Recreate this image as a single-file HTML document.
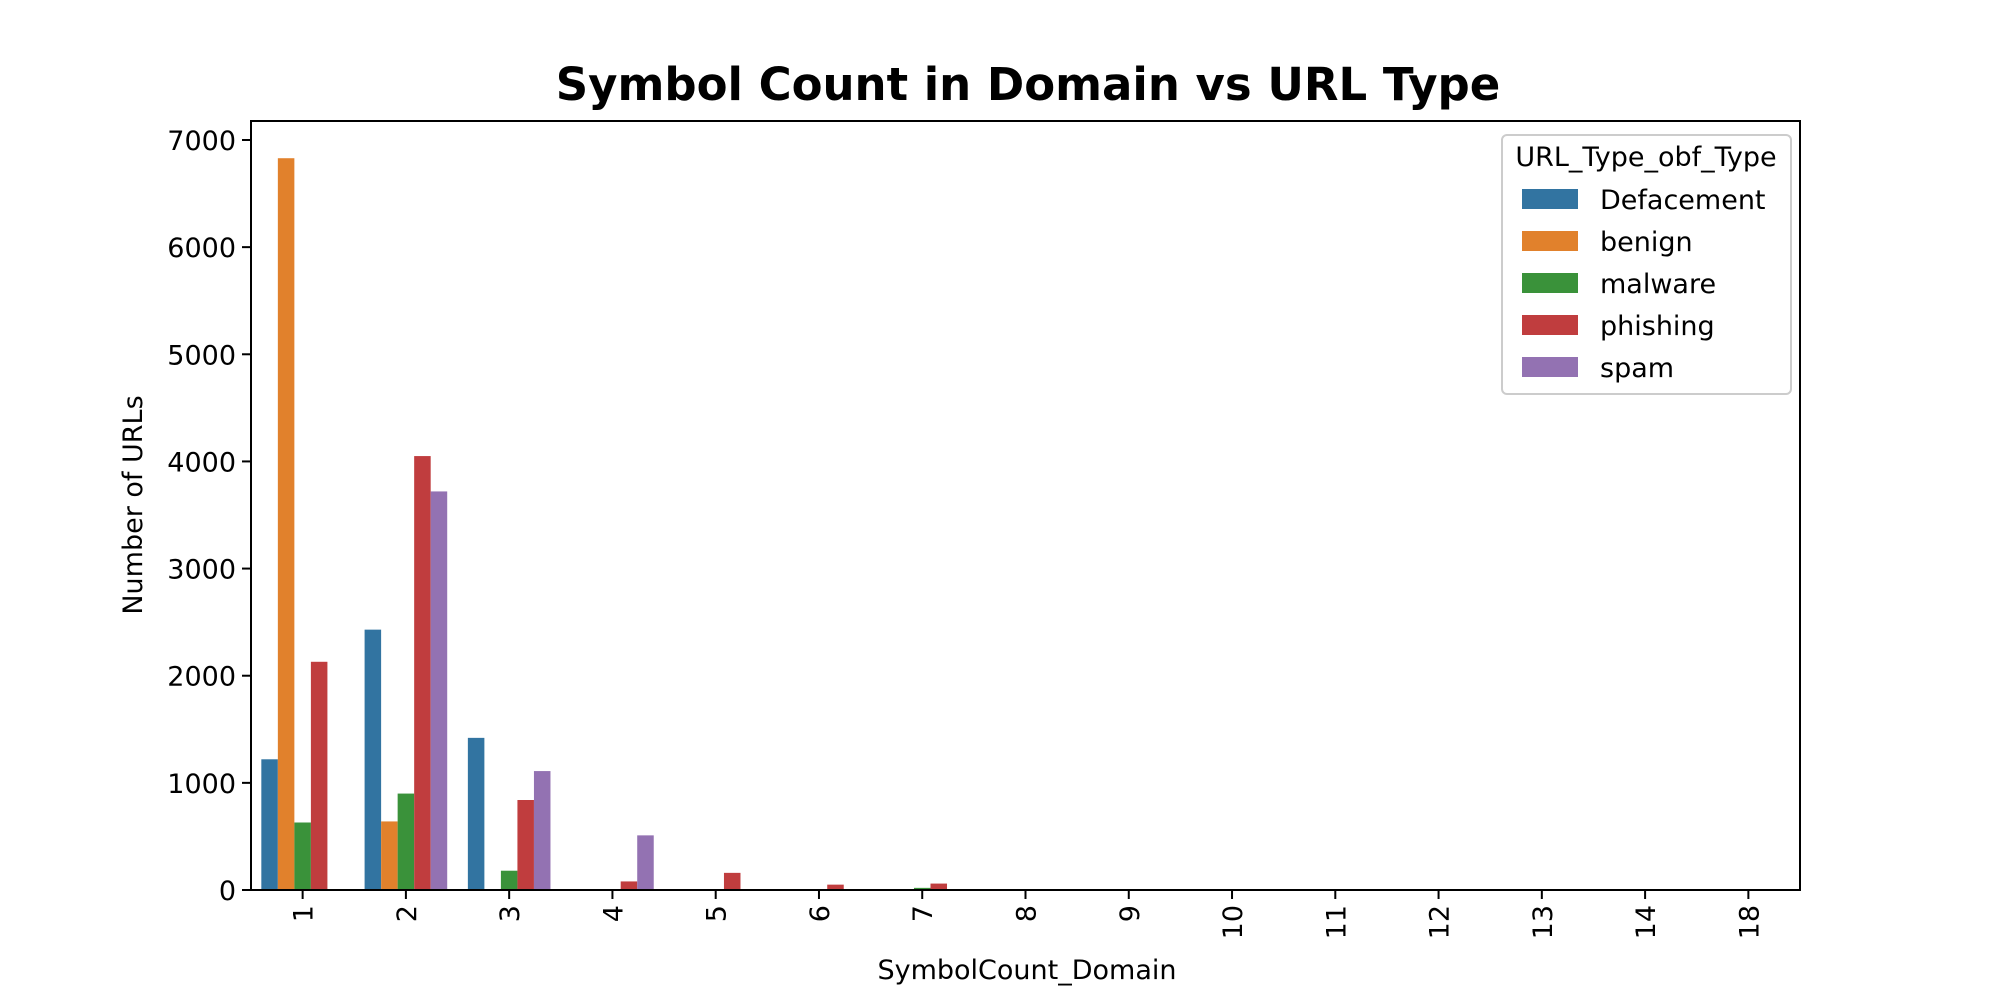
<!DOCTYPE html>
<html><head><meta charset="utf-8"><style>
body{margin:0;background:#fff}
svg{display:block;font-family:"DejaVu Sans","Liberation Sans",sans-serif}
</style></head><body>
<svg id="chart" width="2000" height="1000" viewBox="0 0 2000 1000">
<text x="1028" y="100" text-anchor="middle" font-size="45" font-weight="bold">Symbol Count in Domain vs URL Type</text>
<g id="bars"></g>
<g id="axes"></g>
<rect x="251" y="121" width="1549" height="769" fill="none" stroke="#000" stroke-width="2"/>
<text x="1027" y="979" text-anchor="middle" font-size="27">SymbolCount_Domain</text>
<text transform="translate(142,505) rotate(-90)" text-anchor="middle" font-size="27">Number of URLs</text>
<g id="legend">
<rect x="1502" y="135" width="289" height="259" rx="5" fill="#fff" stroke="#ccc" stroke-width="2"/>
<text x="1646" y="166" text-anchor="middle" font-size="27">URL_Type_obf_Type</text>
</g>
</svg>
<script>
const categories=["1","2","3","4","5","6","7","8","9","10","11","12","13","14","18"];
const seriesNames=["Defacement","benign","malware","phishing","spam"];
const colors=["#3274a1","#e1812c","#3a923a","#c03d3e","#9372b2"];
const defacement=[1220,2430,1420,0,0,0,0,0,0,0,0,0,0,0,0];
const benign=[6830,640,0,0,0,0,0,0,0,0,0,0,0,0,0];
const malware=[630,900,180,0,0,0,20,0,0,0,0,0,0,0,0];
const phishing=[2130,4050,840,80,160,50,60,0,0,0,0,0,0,0,0];
const spam=[0,3720,1110,510,0,0,0,0,0,0,0,0,0,0,0];
const yTicks=[0,1000,2000,3000,4000,5000,6000,7000];
const series=[defacement,benign,malware,phishing,spam];
const NS="http://www.w3.org/2000/svg";
const L=251,R=1800,B=890,T=121;
const band=(R-L)/categories.length;
const y=v=>B-v*(B-140)/7000;
const xc=i=>L+band*(i+0.5);
const bw=band*0.8/series.length;
const bars=document.getElementById('bars');
series.forEach((s,si)=>{s.forEach((v,i)=>{if(v<=0)return;
const r=document.createElementNS(NS,'rect');
r.setAttribute('x',xc(i)-band*0.4+si*bw);r.setAttribute('y',y(v));
r.setAttribute('width',bw);r.setAttribute('height',B-y(v));r.setAttribute('fill',colors[si]);


bars.appendChild(r);});});
const axes=document.getElementById('axes');
yTicks.forEach(t=>{
const l=document.createElementNS(NS,'line');
l.setAttribute('x1',L-9);l.setAttribute('x2',L);l.setAttribute('y1',y(t));l.setAttribute('y2',y(t));l.setAttribute('stroke','#000');l.setAttribute('stroke-width','2');


axes.appendChild(l);
const tx=document.createElementNS(NS,'text');
tx.setAttribute('x',L-15);tx.setAttribute('y',y(t)+10);tx.setAttribute('text-anchor','end');tx.setAttribute('font-size','27');tx.textContent=t;


axes.appendChild(tx);});
categories.forEach((c,i)=>{
const l=document.createElementNS(NS,'line');
l.setAttribute('x1',xc(i));l.setAttribute('x2',xc(i));l.setAttribute('y1',B);l.setAttribute('y2',B+9);l.setAttribute('stroke','#000');l.setAttribute('stroke-width','2');


axes.appendChild(l);
const tx=document.createElementNS(NS,'text');
tx.setAttribute('transform',`translate(${xc(i)+10},${B+15}) rotate(-90)`);tx.setAttribute('text-anchor','end');tx.setAttribute('font-size','27');tx.textContent=c;


axes.appendChild(tx);});
const lg=document.getElementById('legend');
seriesNames.forEach((n,i)=>{
const yy=200+i*42;
const r=document.createElementNS(NS,'rect');
r.setAttribute('x',1522);r.setAttribute('y',yy-11);r.setAttribute('width',56);r.setAttribute('height',20);r.setAttribute('fill',colors[i]);


lg.appendChild(r);
const t=document.createElementNS(NS,'text');
t.setAttribute('x',1600);t.setAttribute('y',yy+9);t.setAttribute('font-size','27');t.textContent=n;


lg.appendChild(t);});
</script>
</body></html>
